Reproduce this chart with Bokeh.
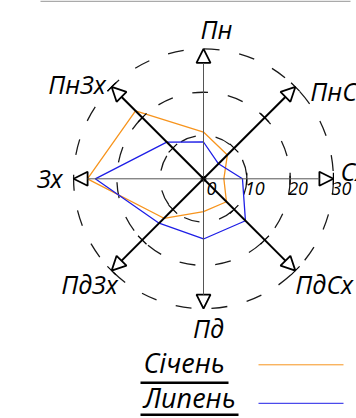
import math
from bokeh.plotting import figure
from bokeh.models import Range1d, Arrow, NormalHead
from bokeh.embed import file_html
from bokeh.resources import INLINE
from bokeh.core.properties import value

# ---- data ----
directions = ["Пн", "ПнСх", "Сх", "ПдСх", "Пд", "ПдЗх", "Зх", "ПнЗх"]
angles_deg = [90, 45, 0, -45, -90, -135, 180, 135]
january = [10.8, 7.8, 4.7, 7.5, 7.6, 12.9, 26.8, 22.2]
july = [8.5, 4.9, 9.0, 13.7, 13.9, 14.5, 25.0, 12.0]
series_names = ["Січень", "Липень"]
series_colors = ["#F7941D", "#1E1EE6"]
ring_values = [10, 20, 30]
tick_values = [0, 10, 20, 30]
tick_labels = ["0", "10", "20", "30"]
axis_length = 30

# ---- layout ----
W, H = 356, 418
SCALE = 4.33            # px per unit
CX, CY = 203.0, 178.3   # centre in figure px (from top-left)
FONT = "Open Sans"


def px(v):
    return v / SCALE


p = figure(width=W, height=H, output_backend="svg", toolbar_location=None,
           x_range=Range1d(-CX / SCALE, (W - CX) / SCALE),
           y_range=Range1d(-(H - CY) / SCALE, CY / SCALE),
           x_axis_type=None, y_axis_type=None, min_border=0)
p.grid.visible = False
p.outline_line_color = None
p.background_fill_color = "white"
p.border_fill_color = "white"

# thin grey rule at the top
p.segment([px(-163)], [px(177.5)], [px(147)], [px(177.5)], line_color="#aaaaaa", line_width=1.5)

# dashed rings
p.circle(x=[0] * len(ring_values), y=[0] * len(ring_values), radius=ring_values,
         fill_color=None, line_color="#1a1a1a", line_width=1.3, line_dash="16 20")

# series polygons
for vals, col in zip([january, july], series_colors):
    xs = [v * math.cos(math.radians(a)) for v, a in zip(vals, angles_deg)]
    ys = [v * math.sin(math.radians(a)) for v, a in zip(vals, angles_deg)]
    p.line(xs + xs[:1], ys + ys[:1], line_color=col, line_width=1.3)

# axes with arrows
for a in angles_deg:
    ca, sa = math.cos(math.radians(a)), math.sin(math.radians(a))
    diag = a % 90 != 0
    p.add_layout(Arrow(x_start=0, y_start=0, x_end=axis_length * ca, y_end=axis_length * sa,
                       line_color="black" if diag else "#555555",
                       line_width=2 if diag else 1,
                       end=NormalHead(size=14, fill_color="white", line_color="black",
                                      line_width=1.8)))

# perpendicular ticks on east axis and diagonals
half = px(6)
tx0, ty0, tx1, ty1 = [], [], [], []
for a in angles_deg:
    if a in (90, -90, 180):
        continue
    ca, sa = math.cos(math.radians(a)), math.sin(math.radians(a))
    for r in ring_values:
        tx0.append(r * ca - half * sa)
        ty0.append(r * sa + half * ca)
        tx1.append(r * ca + half * sa)
        ty1.append(r * sa - half * ca)
p.segment(tx0, ty0, tx1, ty1, line_color="black", line_width=1.2)

# centre dot
p.scatter([0], [0], size=5, color="black")

# direction labels: (dx, dy) offsets in px from arrow tip, alignment
label_style = {
    "Пн": (13, 20, "center"),
    "ПнСх": (15, -4, "left"),
    "Сх": (7, 8, "left"),
    "ПдСх": (0, -13, "left"),
    "Пд": (5, -19, "center"),
    "ПдЗх": (6, -13, "right"),
    "Зх": (-11, 1, "right"),
    "ПнЗх": (-6, 3, "right"),
}
for name, a in zip(directions, angles_deg):
    dx, dy, al = label_style[name]
    ca, sa = math.cos(math.radians(a)), math.sin(math.radians(a))
    p.text(x=[axis_length * ca + px(dx)], y=[axis_length * sa + px(dy)], text=[name],
           text_font=value(FONT), text_font_style="italic", text_font_size="25px",
           text_align=al, text_baseline="middle", text_color="black")

# scale labels on east axis
p.text(x=[v + px(8) for v in tick_values], y=[px(-10)] * len(tick_values), text=tick_labels,
       text_font=value(FONT), text_font_style="italic", text_font_size="18px",
       text_align="center", text_baseline="middle", text_color="black")

# legend
leg_text_x = px(-60)
leg_mid = [px(-184), px(-218.5)]
leg_line_y = [px(-186), px(-224.5)]
ul_y = [px(-204), px(-236)]
ul_end = [px(25), px(35)]
for name, col, my, ly, uy, ue in zip(series_names, series_colors, leg_mid, leg_line_y, ul_y, ul_end):
    p.text(x=[leg_text_x], y=[my], text=[name], text_font=value(FONT),
           text_font_style="italic", text_font_size="27px", text_align="left",
           text_baseline="middle", text_color="black")
    p.segment([px(-63)], [uy], [ue], [uy], line_color="black", line_width=2.5)
    p.segment([px(55)], [ly], [px(140)], [ly], line_color=col, line_width=1)

open("out.html", "w").write(file_html(p, INLINE))
